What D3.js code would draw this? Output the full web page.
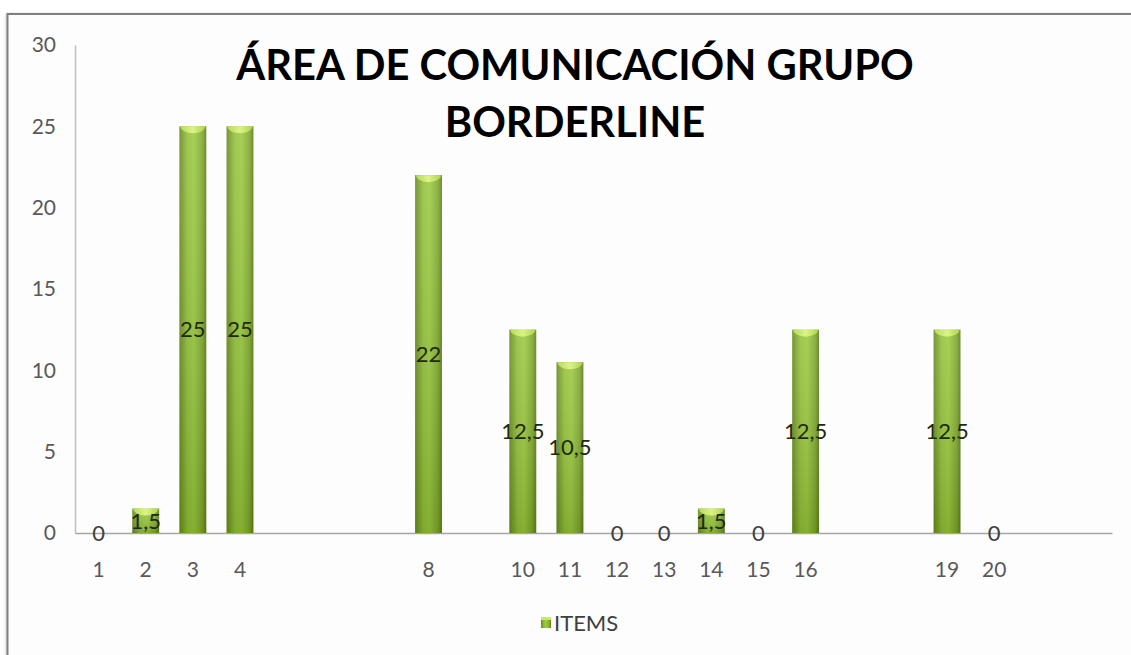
<!DOCTYPE html>
<html>
<head>
<meta charset="utf-8">
<script src="https://cdn.jsdelivr.net/npm/d3@7"></script>
<style>
    body { margin: 0; background: #ffffff; }
    svg { display: block; }
</style>
</head>
<body>
<svg id="chart"></svg>
<script>
"use strict";

const width = 1131;
const height = 655;

// categories on the x axis (empty string = slot without label)
const items = ["1", "2", "3", "4", "", "", "", "8", "", "10", "11", "12", "13", "14", "15", "16", "", "", "19", "20", "", ""];
const values = [0, 1.5, 25, 25, null, null, null, 22, null, 12.5, 10.5, 0, 0, 1.5, 0, 12.5, null, null, 12.5, 0, null, null];
const yTicks = [0, 5, 10, 15, 20, 25, 30];
const titleLines = ["ÁREA DE COMUNICACIÓN GRUPO", "BORDERLINE"];
const seriesName = "ITEMS";

const locale = d3.formatLocale({ decimal: ",", thousands: ".", grouping: [3], currency: ["", "€"] });
const fmt = v => locale.format("~g")(v);
const font = "Lato, 'Open Sans', sans-serif";

const svg = d3.select("#chart")
    .attr("width", width)
    .attr("height", height);

// gradients
const defs = svg.append("defs");
const body = defs.append("linearGradient").attr("id", "barBody")
    .attr("x1", "0").attr("x2", "1").attr("y1", "0").attr("y2", "0");
body.append("stop").attr("offset", "0%").attr("stop-color", "#66881f");
body.append("stop").attr("offset", "30%").attr("stop-color", "#92c03a");
body.append("stop").attr("offset", "55%").attr("stop-color", "#9bc940");
body.append("stop").attr("offset", "85%").attr("stop-color", "#7ea72d");
body.append("stop").attr("offset", "100%").attr("stop-color", "#5b7c1b");

const shade = defs.append("linearGradient").attr("id", "barShade")
    .attr("x1", "0").attr("x2", "0").attr("y1", "0").attr("y2", "1");
shade.append("stop").attr("offset", "0%").attr("stop-color", "#ffffff").attr("stop-opacity", 0.12);
shade.append("stop").attr("offset", "100%").attr("stop-color", "#2f4a00").attr("stop-opacity", 0.2);

const topGrad = defs.append("linearGradient").attr("id", "barTop")
    .attr("x1", "0").attr("x2", "1").attr("y1", "0").attr("y2", "0");
topGrad.append("stop").attr("offset", "0%").attr("stop-color", "#b4dc58");
topGrad.append("stop").attr("offset", "50%").attr("stop-color", "#dcf385");
topGrad.append("stop").attr("offset", "100%").attr("stop-color", "#acd54e");

const shadow = defs.append("filter").attr("id", "frameShadow")
    .attr("x", "-5%").attr("y", "-5%").attr("width", "110%").attr("height", "110%");
shadow.append("feDropShadow").attr("dx", 0).attr("dy", 1).attr("stdDeviation", 1.5)
    .attr("flood-color", "#000").attr("flood-opacity", 0.35);

// outer chart frame
svg.append("rect")
    .attr("x", 7.5).attr("y", 14)
    .attr("width", width + 20).attr("height", height + 20)
    .attr("fill", "#fdfdfd")
    .attr("stroke", "#7f7f7f")
    .attr("stroke-width", 2)
    .attr("filter", "url(#frameShadow)");

// scales
const x = d3.scaleBand()
    .domain(d3.range(items.length))
    .range([75, 1112])
    .paddingInner(0.43)
    .paddingOuter(0.215);

const y = d3.scaleLinear()
    .domain([0, 30])
    .range([533, 45]);

// axes
const axisY = svg.append("g")
    .attr("transform", "translate(75,0)")
    .call(d3.axisLeft(y).tickValues(yTicks).tickSize(0).tickSizeOuter(0).tickPadding(19));
axisY.select(".domain").attr("stroke", "#bfbfbf").attr("stroke-width", 1.5);
axisY.selectAll("text")
    .attr("font-family", font)
    .attr("font-size", 21)
    .attr("fill", "#595959");

const axisX = svg.append("g")
    .attr("transform", "translate(0,533)")
    .call(d3.axisBottom(x).tickSize(0).tickSizeOuter(0).tickPadding(29)
        .tickFormat(i => items[i]));
axisX.select(".domain").attr("stroke", "#a6a6a6").attr("stroke-width", 1.5);
axisX.selectAll("text")
    .attr("font-family", font)
    .attr("font-size", 21)
    .attr("fill", "#595959");

// bars (cylinders)
const data = values.map((v, i) => ({ i, v })).filter(d => d.v !== null);
const bw = x.bandwidth();

const bars = svg.append("g").selectAll("g")
    .data(data.filter(d => d.v > 0))
    .join("g");

bars.append("rect")
    .attr("x", d => x(d.i))
    .attr("y", d => y(d.v))
    .attr("width", bw)
    .attr("height", d => y(0) - y(d.v))
    .attr("fill", "url(#barBody)");

bars.append("rect")
    .attr("x", d => x(d.i))
    .attr("y", d => y(d.v))
    .attr("width", bw)
    .attr("height", d => y(0) - y(d.v))
    .attr("fill", "url(#barShade)");

// light top face, lower half of an ellipse inside the bar
bars.append("path")
    .attr("d", d => {
        const x0 = x(d.i) + 1, x1 = x(d.i) + bw - 1, yt = y(d.v);
        const ry = Math.min(7, (y(0) - y(d.v)) * 0.6);
        return `M${x0},${yt}L${x1},${yt}A${(x1 - x0) / 2},${ry} 0 0 1 ${x0},${yt}Z`;
    })
    .attr("fill", "url(#barTop)");

// data labels, centred on each bar
svg.append("g").selectAll("text")
    .data(data)
    .join("text")
    .attr("x", d => x(d.i) + bw / 2)
    .attr("y", d => y(d.v / 2))
    .attr("dy", "0.35em")
    .attr("text-anchor", "middle")
    .attr("font-family", font)
    .attr("font-size", 22)
    .attr("fill", d => d.v === 0 ? "#404040" : "#1f2a0c")
    .text(d => fmt(d.v));

// title
svg.append("g").selectAll("text")
    .data(titleLines)
    .join("text")
    .attr("x", 575)
    .attr("y", (d, i) => 80 + i * 57)
    .attr("text-anchor", "middle")
    .attr("font-family", font)
    .attr("font-weight", "bold")
    .attr("font-size", 41.7)
    .attr("fill", "#000000")
    .text(d => d);

// legend
const legend = svg.append("g").attr("transform", "translate(541,622)");
legend.append("rect")
    .attr("x", 0).attr("y", -5)
    .attr("width", 10).attr("height", 11)
    .attr("fill", "url(#barBody)");
legend.append("rect")
    .attr("x", 0).attr("y", -5)
    .attr("width", 10).attr("height", 3)
    .attr("fill", "#c8e86a");
legend.append("text")
    .attr("x", 13).attr("y", 1)
    .attr("dy", "0.35em")
    .attr("font-family", font)
    .attr("font-size", 22)
    .attr("fill", "#404040")
    .text(seriesName);
</script>
</body>
</html>
